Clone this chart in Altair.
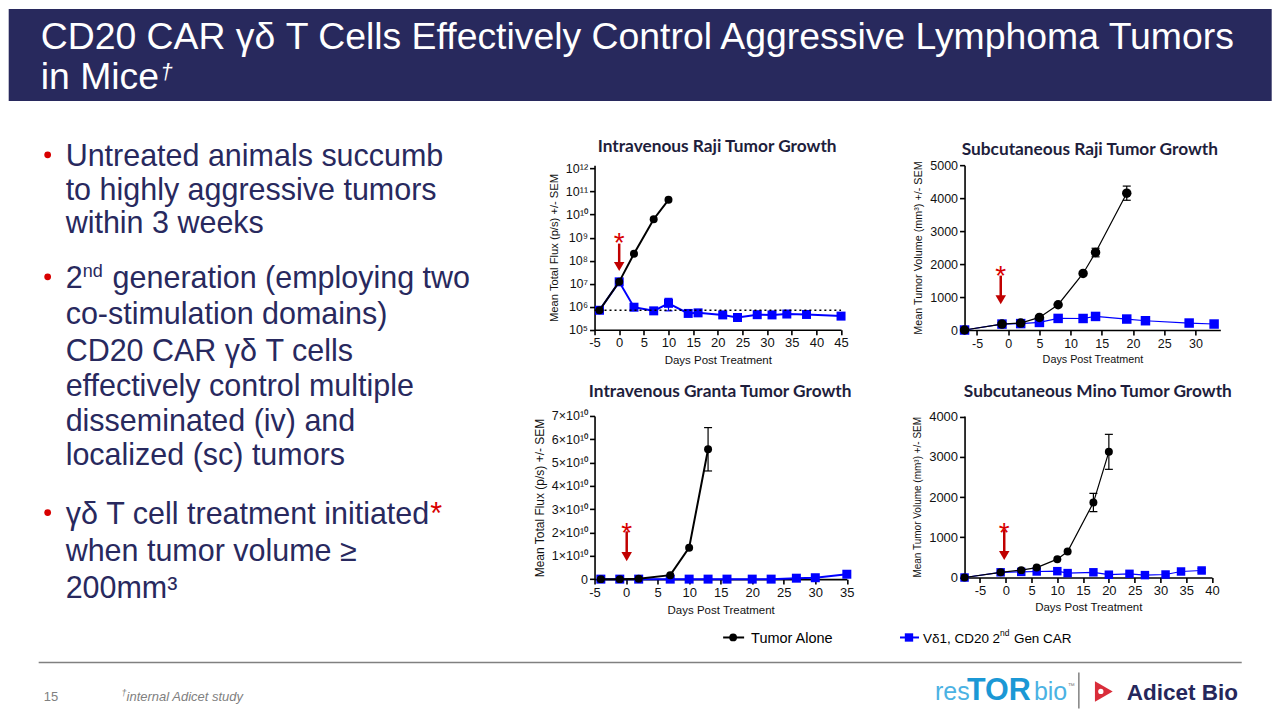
import altair as alt
import pandas as pd

# ---------------- layout (page pixels; page has an 8px margin) ----------------
# Plot-area origin of the first panel (top-left), in page pixels.
OX, OY = 594.3, 164.3


def fx(p):
    return p - OX


def fy(p):
    return p - OY


FONT = "Liberation Sans"
HEAD_FONT = "Lato"
BAR = "#28295D"
INK = "#28295E"
RED = "#D80000"
ARROW_RED = "#C00000"
BLUE = "#0000FF"
GRAY = "#808080"
HEAD_INK = "#1E1E3C"

# ---------------- data ----------------
# Intravenous Raji Tumor Growth (total flux, log scale)
ivr_tumor_day = [-4, 0, 3, 7, 10]
ivr_tumor_val = [7.0e5, 1.2e7, 2.0e8, 6.3e9, 4.4e10]
ivr_car_day = [-4, 0, 3, 7, 10, 14, 16, 21, 24, 28, 31, 34, 38, 45]
ivr_car_val = [7.0e5, 1.2e7, 9.5e5, 6.6e5, 1.4e6, 5.1e5, 5.4e5, 4.4e5, 3.4e5, 4.5e5, 4.4e5, 4.8e5, 4.6e5, 3.9e5]
ivr_err_day = [10]
ivr_err_lo = [6.6e5]
ivr_err_hi = [2.3e6]
ivr_err_color = [BLUE]
ivr_baseline = [7.0e5]
ivr_baseline_days = [-5, 45]
ivr_x_ticks = [-5, 0, 5, 10, 15, 20, 25, 30, 35, 40, 45]
ivr_y_ticks = [1e5, 1e6, 1e7, 1e8, 1e9, 1e10, 1e11, 1e12]
ivr_y_labels = ["10⁵", "10⁶", "10⁷", "10⁸", "10⁹", "10¹⁰", "10¹¹", "10¹²"]
ivr_arrow = [0, 1.2e9, 5.5e8, 3.6e7]  # day, star, arrow top, arrow tip

# Subcutaneous Raji Tumor Growth (volume)
scr_tumor_day = [-7, -1, 2, 5, 8, 12, 14, 19]
scr_tumor_val = [0, 180, 212, 382, 767, 1715, 2352, 4150]
scr_car_day = [-7, -1, 2, 5, 8, 12, 14, 19, 22, 29, 33]
scr_car_val = [0, 180, 195, 230, 352, 350, 412, 333, 282, 212, 182]
scr_err_day = [14, 19]
scr_err_lo = [2220, 3935]
scr_err_hi = [2480, 4365]
scr_err_color = ["black", "black"]
scr_x_ticks = [-5, 0, 5, 10, 15, 20, 25, 30]
scr_y_ticks = [0, 1000, 2000, 3000, 4000, 5000]
scr_arrow = [-1.2, 1850, 1650, 790]

# Intravenous Granta Tumor Growth (total flux, linear)
ivg_tumor_day = [-4, -1, 2, 7, 10, 13]
ivg_tumor_val = [0, 0, 0.02e10, 0.17e10, 1.35e10, 5.57e10]
ivg_car_day = [-4, -1, 2, 7, 10, 13, 16, 20, 23, 27, 30, 35]
ivg_car_val = [0, 0, 0, 0, 0, 0, 0, 0, 0, 0.04e10, 0.06e10, 0.21e10]
ivg_err_day = [13]
ivg_err_lo = [4.64e10]
ivg_err_hi = [6.50e10]
ivg_err_color = ["black"]
ivg_x_ticks = [-5, 0, 5, 10, 15, 20, 25, 30, 35]
ivg_y_ticks = [0, 1e10, 2e10, 3e10, 4e10, 5e10, 6e10, 7e10]
ivg_y_labels = ["0", "1×10¹⁰", "2×10¹⁰", "3×10¹⁰", "4×10¹⁰", "5×10¹⁰", "6×10¹⁰", "7×10¹⁰"]
ivg_arrow = [0.1, 2.28e10, 2.05e10, 0.78e10]

# Subcutaneous Mino Tumor Growth (volume)
scm_tumor_day = [-8, -1, 3, 6, 10, 12, 17, 20]
scm_tumor_val = [0, 130, 184, 248, 457, 646, 1863, 3125]
scm_car_day = [-8, -1, 3, 6, 10, 12, 17, 20, 24, 27, 31, 34, 38]
scm_car_val = [0, 130, 140, 150, 158, 110, 130, 70, 92, 60, 75, 150, 175]
scm_err_day = [17, 20, 38]
scm_err_lo = [1640, 2690, 130]
scm_err_hi = [2090, 3560, 225]
scm_err_color = ["black", "black", BLUE]
scm_x_ticks = [-5, 0, 5, 10, 15, 20, 25, 30, 35, 40]
scm_y_ticks = [0, 1000, 2000, 3000, 4000]
scm_arrow = [-0.3, 1283, 1190, 440]

FLUX_TITLE = "Mean Total Flux (p/s) +/- SEM"
VOL_TITLE = "Mean Tumor Volume (mm³) +/- SEM"


def label_list_expr(labels, index_expr):
    arr = ",".join("'" + s + "'" for s in labels)
    return "[" + arr + "][" + index_expr + "]"


PLAIN_LABEL = "'' + datum.value"  # keeps an ASCII hyphen for negative days

# panel geometry (plot areas, page pixels)
A_W, A_H = 246.7, 164.7
B_W, B_H = 256.0, 165.0
C_W, C_H = 252.5, 163.3
D_W, D_H = 247.6, 161.7
COL_GAP = 958.3 - (OX + A_W)
ROW_GAP = 415.0 - (OY + A_H)

PANELS = [
    dict(w=A_W, h=A_H, xdom=[-5, 45], ydom=[1e5, 10 ** (5 + 7 * A_H / 161.3)], log=True,
         xticks=ivr_x_ticks, yticks=ivr_y_ticks,
         ylabelexpr=label_list_expr(ivr_y_labels, "round(log(datum.value)/LN10)-5"),
         ytitle=FLUX_TITLE, lfs=13, ylfs=12.5, xtfs=11.5, ytfs=11.2, xtp=5, ytp=6,
         lw=2, csize=64, ssize=81,
         tumor=(ivr_tumor_day, ivr_tumor_val), car=(ivr_car_day, ivr_car_val),
         err=(ivr_err_day, ivr_err_lo, ivr_err_hi, ivr_err_color), arrow=ivr_arrow,
         baseline=(ivr_baseline_days, ivr_baseline)),
    dict(w=B_W, h=B_H, xdom=[-7, 34], ydom=[0, 5000], log=False,
         xticks=scr_x_ticks, yticks=scr_y_ticks, ylabelexpr=PLAIN_LABEL,
         ytitle=VOL_TITLE, lfs=12.5, ylfs=12.5, xtfs=10.8, ytfs=10.8, xtp=4, ytp=6,
         lw=1.2, csize=90, ssize=90,
         tumor=(scr_tumor_day, scr_tumor_val), car=(scr_car_day, scr_car_val),
         err=(scr_err_day, scr_err_lo, scr_err_hi, scr_err_color), arrow=scr_arrow,
         baseline=None),
    dict(w=C_W, h=C_H, xdom=[-5, 35], ydom=[0, 7e10], log=False,
         xticks=ivg_x_ticks, yticks=ivg_y_ticks,
         ylabelexpr=label_list_expr(ivg_y_labels, "round(datum.value/1e10)"),
         ytitle=FLUX_TITLE, lfs=13, ylfs=12.5, xtfs=11.5, ytfs=12, xtp=5, ytp=5,
         lw=2, csize=64, ssize=81,
         tumor=(ivg_tumor_day, ivg_tumor_val), car=(ivg_car_day, ivg_car_val),
         err=(ivg_err_day, ivg_err_lo, ivg_err_hi, ivg_err_color), arrow=ivg_arrow,
         baseline=None),
    dict(w=D_W, h=D_H, xdom=[-8, 40], ydom=[0, 4000 * D_H / 161.0], log=False,
         xticks=scm_x_ticks, yticks=scm_y_ticks, ylabelexpr=PLAIN_LABEL,
         ytitle=VOL_TITLE, lfs=13, ylfs=13, xtfs=11.5, ytfs=10, xtp=4, ytp=6,
         lw=1.2, csize=64, ssize=72,
         tumor=(scm_tumor_day, scm_tumor_val), car=(scm_car_day, scm_car_val),
         err=(scm_err_day, scm_err_lo, scm_err_hi, scm_err_color), arrow=scm_arrow,
         baseline=None),
]

DUMMY = pd.DataFrame({"k": [0]})


def txt(s, x, y, size, color=INK, font=FONT, weight="normal", style="normal",
        align="left", baseline="alphabetic"):
    return alt.Chart(DUMMY).mark_text(
        text=s, font=font, fontSize=size, fontWeight=weight, fontStyle=style,
        color=color, align=align, baseline=baseline
    ).encode(x=alt.value(fx(x)), y=alt.value(fy(y)))


def make_layers(cfg):
    xs = alt.Scale(domain=cfg["xdom"], nice=False, zero=False)
    if cfg["log"]:
        ys = alt.Scale(type="log", domain=cfg["ydom"], nice=False)
    else:
        ys = alt.Scale(domain=cfg["ydom"], nice=False, zero=False)

    xaxis = alt.Axis(
        orient="bottom", values=cfg["xticks"], labelExpr=PLAIN_LABEL,
        title="Days Post Treatment", grid=False, labelFlush=False, labelOverlap=False,
        domainColor="black", domainWidth=1.6, tickColor="black", tickWidth=1.6, tickSize=5,
        labelPadding=2, labelFont=FONT, labelFontSize=cfg["lfs"], labelColor="#111",
        titleFont=FONT, titleFontSize=cfg["xtfs"], titleFontWeight="normal",
        titleColor="#111", titlePadding=cfg["xtp"],
    )
    yaxis = alt.Axis(
        orient="left", values=cfg["yticks"], labelExpr=cfg["ylabelexpr"],
        title=cfg["ytitle"], grid=False, labelFlush=False, labelOverlap=False,
        domainColor="black", domainWidth=1.6, tickColor="black", tickWidth=1.6, tickSize=5,
        labelPadding=2, labelFont=FONT, labelFontSize=cfg["ylfs"], labelColor="#111",
        titleFont=FONT, titleFontSize=cfg["ytfs"], titleFontWeight="normal",
        titleColor="#111", titlePadding=cfg["ytp"],
    )

    # every layer carries the same explicit axis so nothing falls back to defaults
    def X(f):
        return alt.X(f + ":Q", scale=xs, axis=xaxis)

    def Y(f):
        return alt.Y(f + ":Q", scale=ys, axis=yaxis)

    tumor = pd.DataFrame({"day": cfg["tumor"][0], "val": cfg["tumor"][1]})
    car = pd.DataFrame({"day": cfg["car"][0], "val": cfg["car"][1]})
    ed, elo, ehi, ecol = cfg["err"]
    err = pd.DataFrame({"day": ed, "lo": elo, "hi": ehi, "col": ecol})
    a = cfg["arrow"]
    arrow = pd.DataFrame({"day": [a[0]], "star": [a[1]], "top": [a[2]], "tip": [a[3]]})

    layers = []
    layers.append(alt.Chart(car).mark_line(color=BLUE, strokeWidth=cfg["lw"]).encode(
        x=X("day"), y=Y("val")))
    layers.append(alt.Chart(car).mark_square(color=BLUE, size=cfg["ssize"], opacity=1).encode(
        x=X("day"), y=Y("val")))
    layers.append(alt.Chart(tumor).mark_line(color="black", strokeWidth=cfg["lw"]).encode(
        x=X("day"), y=Y("val")))
    layers.append(alt.Chart(tumor).mark_circle(color="black", size=cfg["csize"], opacity=1).encode(
        x=X("day"), y=Y("val")))
    layers.append(alt.Chart(err).mark_rule(strokeWidth=1.2).encode(
        x=X("day"), y=Y("lo"), y2=alt.Y2("hi"), color=alt.Color("col:N", scale=None)))
    layers.append(alt.Chart(err).mark_tick(orient="horizontal", size=8, thickness=1.2, opacity=1).encode(
        x=X("day"), y=Y("lo"), color=alt.Color("col:N", scale=None)))
    layers.append(alt.Chart(err).mark_tick(orient="horizontal", size=8, thickness=1.2, opacity=1).encode(
        x=X("day"), y=Y("hi"), color=alt.Color("col:N", scale=None)))
    if cfg["baseline"]:
        bd = pd.DataFrame({"x0": [cfg["baseline"][0][0]], "x1": [cfg["baseline"][0][1]],
                           "y": [cfg["baseline"][1][0]]})
        layers.append(alt.Chart(bd).mark_rule(color="black", strokeWidth=1.3, strokeDash=[2, 3]).encode(
            x=X("x0"), x2=alt.X2("x1"), y=Y("y")))
    layers.append(alt.Chart(arrow).mark_rule(color=ARROW_RED, strokeWidth=2.5, y2Offset=-5).encode(
        x=X("day"), y=Y("top"), y2=alt.Y2("tip")))
    layers.append(alt.Chart(arrow).mark_point(shape="triangle-down", filled=True, size=110,
                                              color=ARROW_RED, opacity=1, yOffset=-4.3).encode(
        x=X("day"), y=Y("tip")))
    layers.append(alt.Chart(arrow).mark_text(text="*", font=FONT, fontSize=28, color=RED,
                                             baseline="alphabetic", dy=16).encode(
        x=X("day"), y=Y("star")))
    return layers


# ---------------- slide furniture (drawn inside the first panel, unclipped) ----------------
bg = []
bg.append(alt.Chart(DUMMY).mark_rect(color=BAR).encode(
    x=alt.value(fx(8)), x2=alt.value(fx(1272)), y=alt.value(fy(8)), y2=alt.value(fy(100))))
bg.append(txt("CD20 CAR γδ T Cells Effectively Control Aggressive Lymphoma Tumors", 40, 48, 37.4, "white"))
bg.append(txt("in Mice", 40, 88, 37.4, "white"))
bg.append(txt("†", 160, 78, 22, "white", style="italic"))

for yy in [154, 276, 512]:
    bg.append(alt.Chart(DUMMY).mark_circle(color=RED, size=46, opacity=1).encode(
        x=alt.value(fx(47)), y=alt.value(fy(yy))))

BFS = 30.5
for s, yy in [("Untreated animals succumb", 165), ("to highly aggressive tumors", 199),
              ("within 3 weeks", 232)]:
    bg.append(txt(s, 65, yy, BFS))
bg.append(txt("2", 65, 287, BFS))
bg.append(txt("nd", 82, 276, 18))
bg.append(txt("generation (employing two", 112, 287, BFS))
for s, yy in [("co-stimulation domains)", 323), ("CD20 CAR γδ T cells", 360),
              ("effectively control multiple", 395), ("disseminated (iv) and", 430),
              ("localized (sc) tumors", 464)]:
    bg.append(txt(s, 65, yy, BFS))
bg.append(txt("γδ T cell treatment initiated", 65, 523, BFS))
bg.append(txt("*", 430, 523, BFS, RED))
bg.append(txt("when tumor volume ≥", 65, 560, BFS))
bg.append(txt("200mm³", 65, 597, BFS))

# panel titles
for s, x, y in [("Intravenous Raji Tumor Growth", 717, 151),
                ("Subcutaneous Raji Tumor Growth", 1090, 154),
                ("Intravenous Granta Tumor Growth", 720, 396),
                ("Subcutaneous Mino Tumor Growth", 1098, 396)]:
    bg.append(txt(s, x, y, 17.3, HEAD_INK, font=HEAD_FONT, weight="bold", align="center"))

# legend
bg.append(alt.Chart(DUMMY).mark_rule(color="black", strokeWidth=2).encode(
    x=alt.value(fx(723)), x2=alt.value(fx(744)), y=alt.value(fy(637))))
bg.append(alt.Chart(DUMMY).mark_circle(color="black", size=60, opacity=1).encode(
    x=alt.value(fx(733)), y=alt.value(fy(637))))
bg.append(txt("Tumor Alone", 751, 643, 14.5, "black"))
bg.append(alt.Chart(DUMMY).mark_rule(color=BLUE, strokeWidth=2).encode(
    x=alt.value(fx(900)), x2=alt.value(fx(919)), y=alt.value(fy(637))))
bg.append(alt.Chart(DUMMY).mark_square(color=BLUE, size=70, opacity=1).encode(
    x=alt.value(fx(909)), y=alt.value(fy(637))))
bg.append(txt("Vδ1, CD20 2", 923, 643, 13.5, "black"))
bg.append(txt("nd", 1000, 636, 8.5, "black"))
bg.append(txt("Gen CAR", 1014, 643, 13.5, "black"))

# footer
bg.append(alt.Chart(DUMMY).mark_rule(color=GRAY, strokeWidth=1.5).encode(
    x=alt.value(fx(38)), x2=alt.value(fx(1242)), y=alt.value(fy(662))))
bg.append(txt("15", 43, 701, 13, GRAY))
bg.append(txt("†", 121, 696, 9, GRAY, style="italic"))
bg.append(txt("internal Adicet study", 126, 701, 13, GRAY, style="italic"))

# logos (text-based)
bg.append(txt("res", 935, 700, 25, "#4BB2E3"))
bg.append(txt("TOR", 967, 700, 30.5, "#1B98D5", weight="bold"))
bg.append(txt("bio", 1034, 700, 25, "#4BB2E3"))
bg.append(txt("™", 1068, 688, 7, GRAY))
bg.append(alt.Chart(DUMMY).mark_rule(color=GRAY, strokeWidth=1.5).encode(
    x=alt.value(fx(1079)), y=alt.value(fy(672)), y2=alt.value(fy(708))))
bg.append(alt.Chart(DUMMY).mark_point(shape="triangle-right", filled=True, size=420,
                                      color="#D92D3A", opacity=1).encode(
    x=alt.value(fx(1104)), y=alt.value(fy(691))))
bg.append(alt.Chart(DUMMY).mark_circle(color="white", size=28, opacity=1).encode(
    x=alt.value(fx(1101)), y=alt.value(fy(691))))
bg.append(txt("Adicet Bio", 1127, 700, 22.5, "#25275B", weight="bold"))

panel_charts = []
for i, cfg in enumerate(PANELS):
    layers = make_layers(cfg)
    if i == 0:
        layers = layers + bg
    panel_charts.append(alt.layer(*layers).properties(width=cfg["w"], height=cfg["h"]))

chart = alt.concat(
    *panel_charts, columns=2, bounds="flush", align="none",
    spacing={"row": ROW_GAP, "column": COL_GAP},
).properties(padding=0).configure_view(strokeWidth=0).configure_axis(labelOverlap=False)

chart.save("out.html", embed_options={"renderer": "svg", "actions": False})
